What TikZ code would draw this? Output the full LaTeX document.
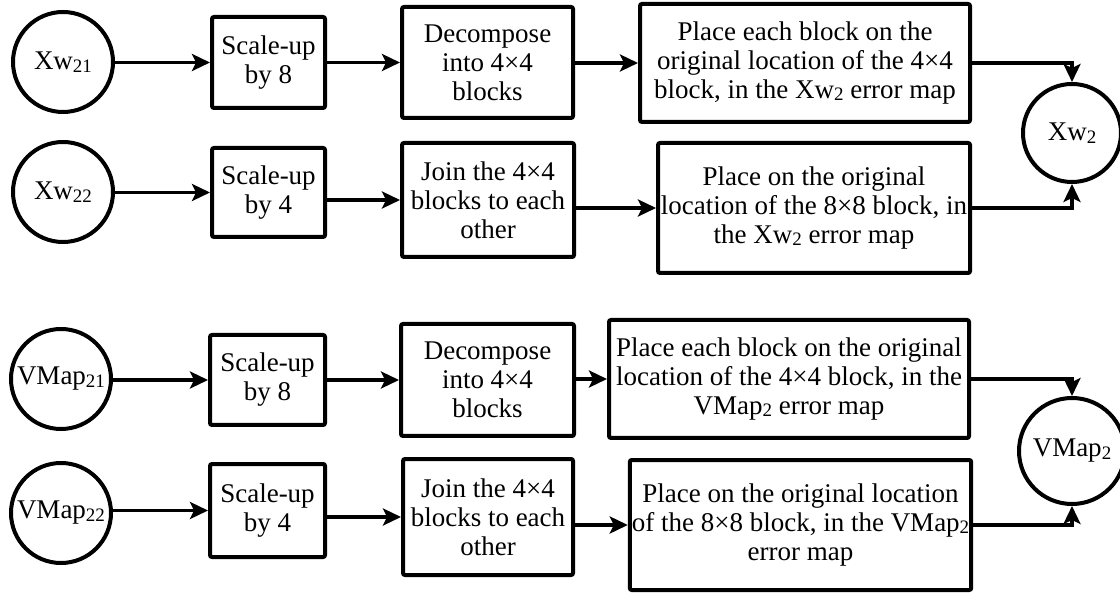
\documentclass[tikz,border=0pt]{standalone}
\usepackage{fontspec}
\setmainfont{Liberation Serif}
\usetikzlibrary{arrows.meta}
\newcommand\subs[1]{\raisebox{-0.2ex}{\fontsize{9.5}{10}\selectfont #1}}
\begin{document}
\begin{tikzpicture}[x=0.5pt,y=-0.5pt,
  box/.style={draw, line width=2pt, rounded corners=1pt, align=center, inner sep=1pt, font=\fontsize{13.5}{14.5}\selectfont},
  circ/.style={draw, circle, line width=2pt, minimum size=50pt, inner sep=0pt, font=\fontsize{13.5}{14.5}\selectfont},
  arr/.style={line width=1.8pt, -{Stealth[length=9pt,width=8.5pt,inset=2pt]}},
]
\useasboundingbox (0,0) rectangle (1120,593);
% row 1
\node[circ] (c1) at (63,62) {Xw\subs{21}};
\node[box, minimum width=56.5pt, minimum height=45.5pt] (s1) at (268.5,62.5) {Scale-up\\by 8};
\node[box, minimum width=85.5pt, minimum height=55.5pt] (d1) at (487.5,62.5) {Decompose\\into 4×4\\blocks};
\node[box, minimum width=165pt, minimum height=59pt] (p1) at (805,63) {Place each block on the\\original location of the 4×4\\block, in the Xw\subs{2} error map};
% row 2
\node[circ] (c2) at (63,192) {Xw\subs{22}};
\node[box, minimum width=56.5pt, minimum height=44.5pt] (s2) at (268.5,192.5) {Scale-up\\by 4};
\node[box, minimum width=86pt, minimum height=57pt] (j2) at (488,200) {Join the 4×4\\blocks to each\\other};
\node[box, minimum width=156pt, minimum height=65pt] (p2) at (814,208) {Place on the original\\location of the 8×8 block, in\\the Xw\subs{2} error map};
\node[circ, minimum size=49pt] (o1) at (1072,133) {Xw\subs{2}};
% row 3
\node[circ] (c3) at (61,379) {VMap\subs{21}};
\node[box, minimum width=57.5pt, minimum height=45pt] (s3) at (267.5,380) {Scale-up\\by 8};
\node[box, minimum width=86.5pt, minimum height=56pt] (d3) at (487.5,380) {Decompose\\into 4×4\\blocks};
\node[box, minimum width=180pt, minimum height=59pt] (p3) at (789,379) {Place each block on the original\\location of the 4×4 block, in the\\VMap\subs{2} error map};
% row 4
\node[circ] (c4) at (61,513) {VMap\subs{22}};
\node[box, minimum width=57.5pt, minimum height=46.5pt] (s4) at (267.5,510.5) {Scale-up\\by 4};
\node[box, minimum width=85pt, minimum height=58pt] (j4) at (488,517) {Join the 4×4\\blocks to each\\other};
\node[box, minimum width=167.5pt, minimum height=65pt] (p4) at (800.5,525) {Place on the original location\\of the 8×8 block, in the VMap\subs{2}\\error map};
\node[circ, minimum size=53pt] (o2) at (1072,451) {VMap\subs{2}};
% connectors
\foreach \a/\b in {c1/s1,s1/d1,d1/p1,c2/s2,s2/j2,j2/p2,c3/s3,s3/d3,d3/p3,c4/s4,s4/j4,j4/p4}
  \draw[arr] (\a.east |- \b.west) -- (\b.west);
\draw[arr] (p1.east) -| (o1.north);
\draw[arr] (p2.east) -| (o1.south);
\draw[arr] (p3.east) -| (o2.north);
\draw[arr] (p4.east) -| (o2.south);
\end{tikzpicture}
\end{document}
